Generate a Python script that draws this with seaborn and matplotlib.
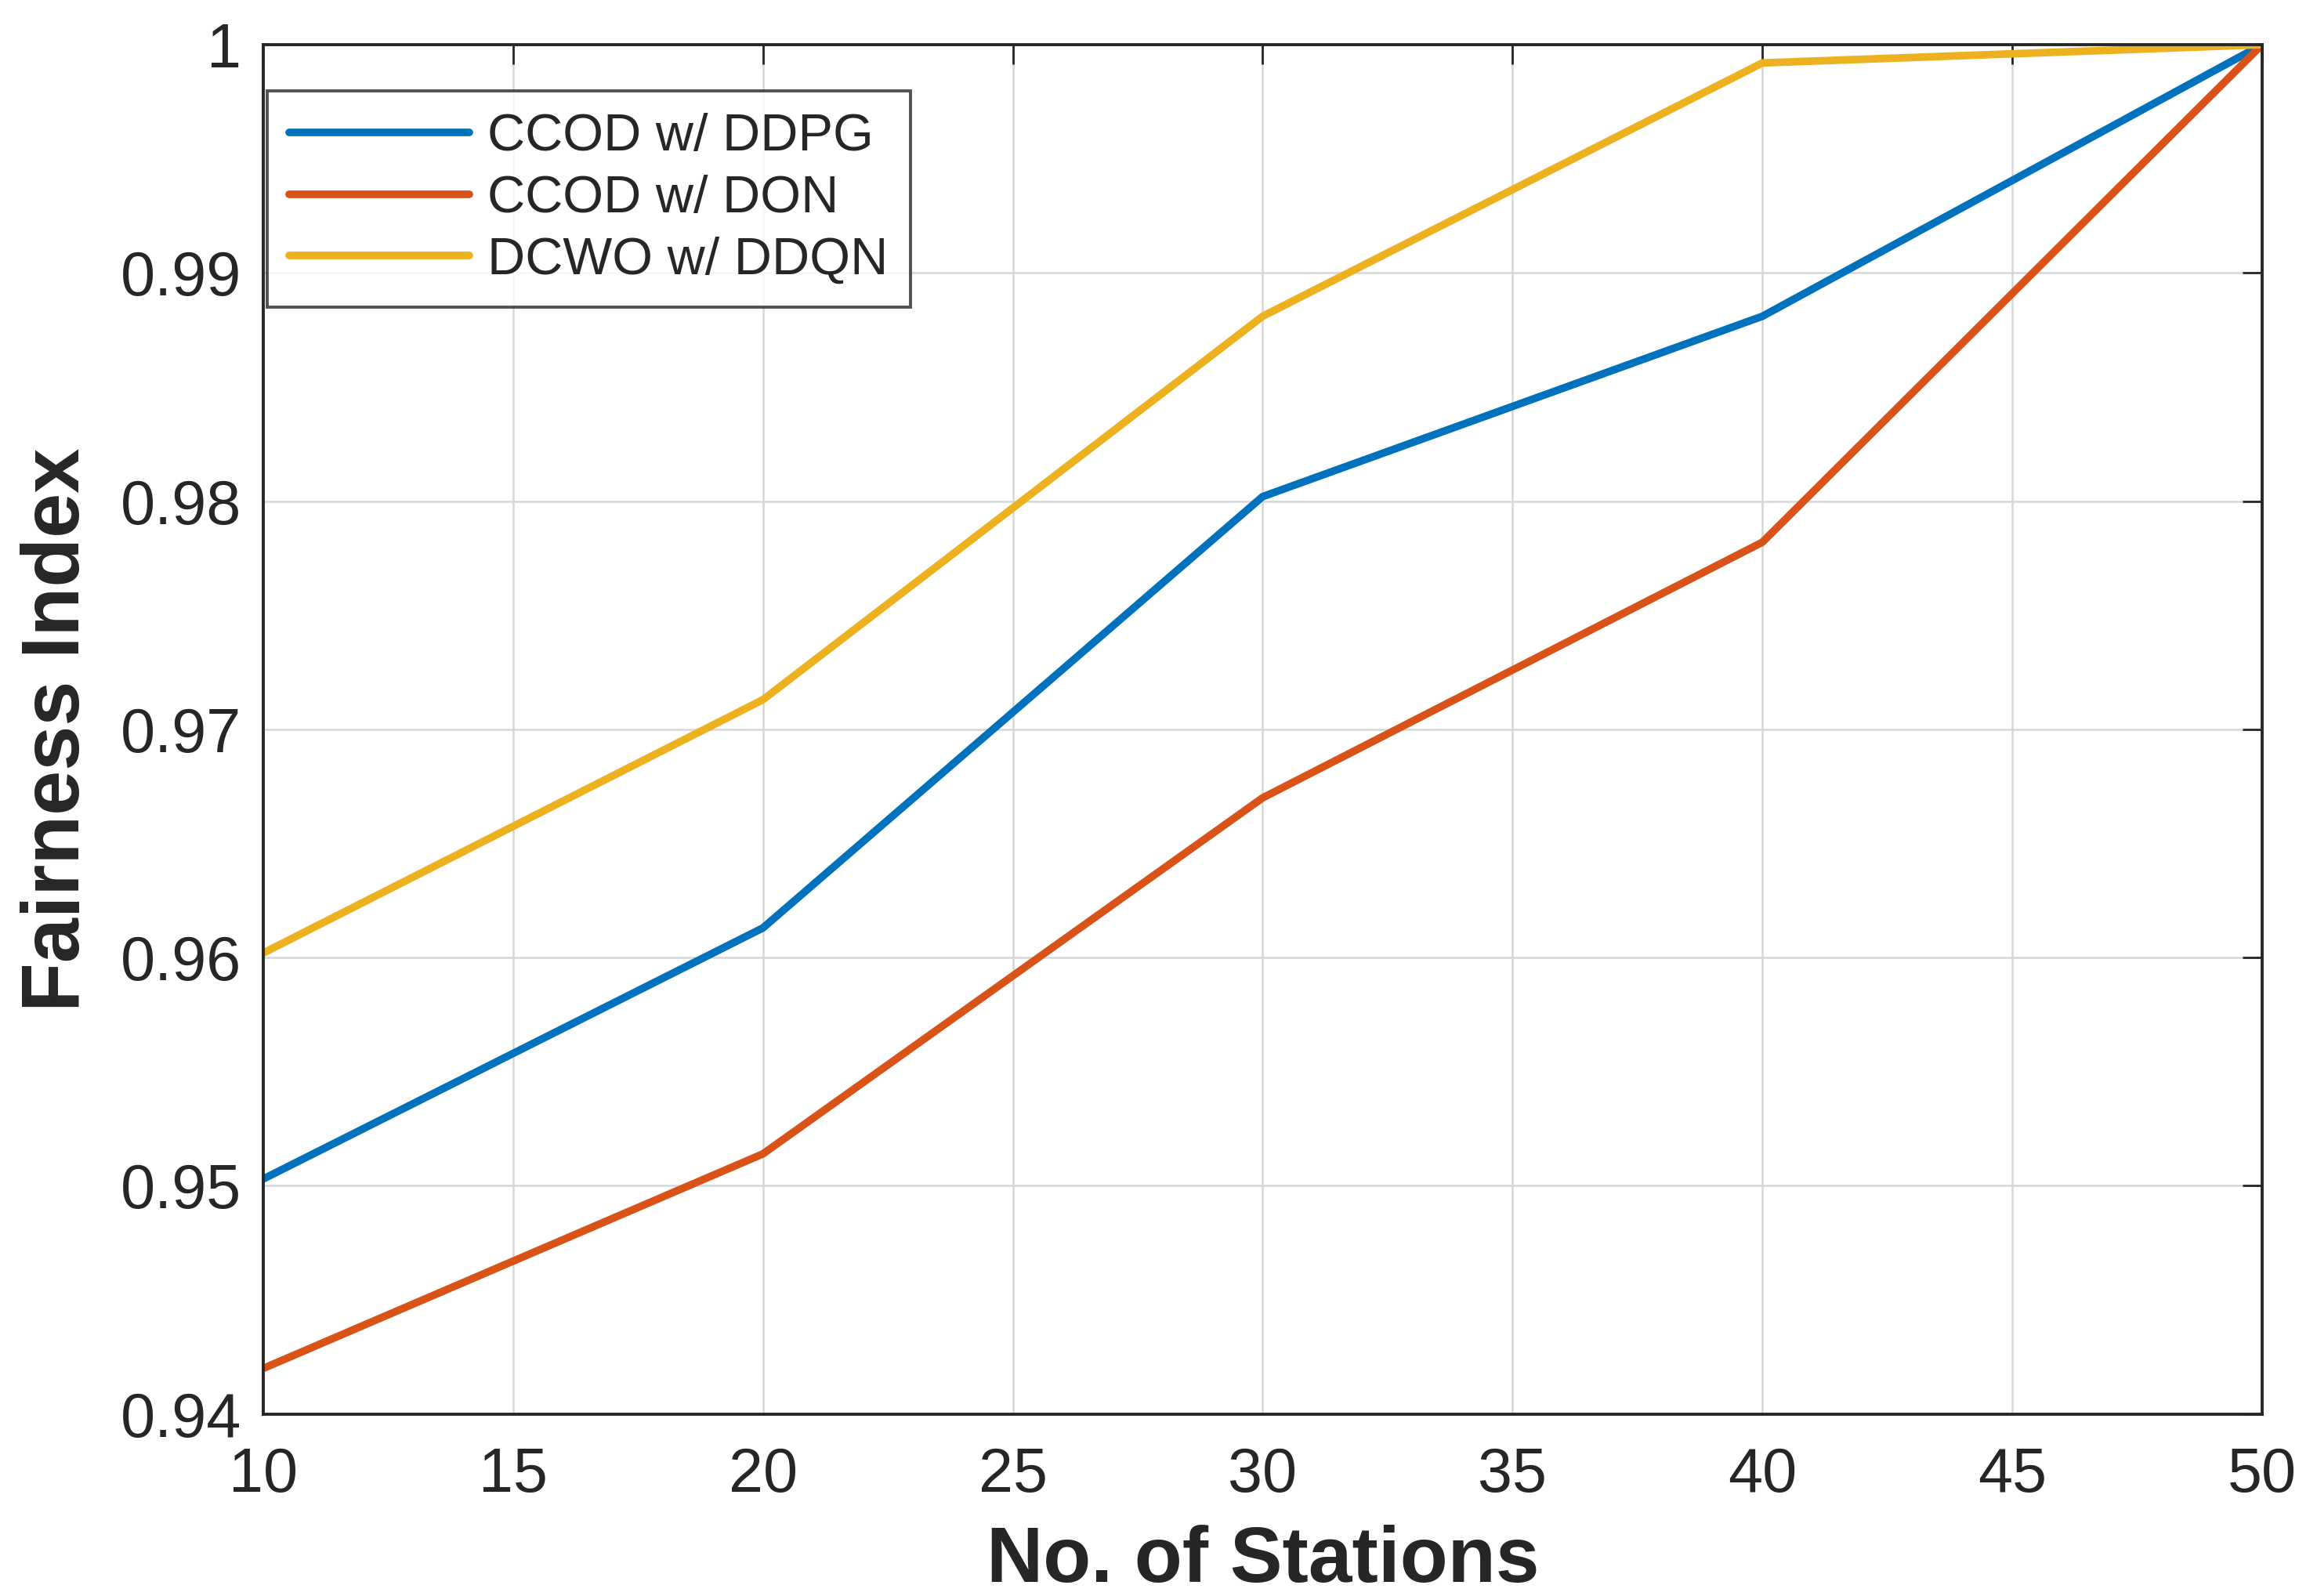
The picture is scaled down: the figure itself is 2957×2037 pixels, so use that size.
import numpy as np
import pandas as pd
import matplotlib
matplotlib.use("Agg")
import matplotlib.pyplot as plt
import seaborn as sns

stations = [10, 20, 30, 40, 50]
ddpg = [0.9503, 0.9613, 0.9802, 0.9881, 1.0]
dqn = [0.9420, 0.9514, 0.9670, 0.9782, 1.0]
ddqn = [0.9602, 0.9713, 0.9881, 0.9992, 1.0]
series_names = ["CCOD w/ DDPG", "CCOD w/ DON", "DCWO w/ DDQN"]
colors = ["#0072BD", "#D95319", "#EDB120"]
xticks = [10, 15, 20, 25, 30, 35, 40, 45, 50]
yticks = [0.94, 0.95, 0.96, 0.97, 0.98, 0.99, 1.0]
ytick_labels = ["0.94", "0.95", "0.96", "0.97", "0.98", "0.99", "1"]

df = pd.DataFrame({
    "x": stations * 3,
    "y": ddpg + dqn + ddqn,
    "series": [series_names[0]] * 5 + [series_names[1]] * 5 + [series_names[2]] * 5,
})

sns.set_style("white")
plt.rcParams["font.family"] = ["Liberation Sans", "DejaVu Sans"]

fig = plt.figure(figsize=(29.57, 20.37), dpi=100)
ax = fig.add_axes([0.1136, 0.114, 0.8627, 0.858])

sns.lineplot(data=df, x="x", y="y", hue="series", palette=colors,
             linewidth=7, ax=ax, legend=True)

ax.set_xlim(10, 50)
ax.set_ylim(0.94, 1.0)
ax.set_xticks(xticks)
ax.set_xticklabels([str(t) for t in xticks])
ax.set_yticks(yticks)
ax.set_yticklabels(ytick_labels)
ax.grid(True, color="#d6d6d6", linewidth=1.8)
ax.set_axisbelow(True)
for s in ax.spines.values():
    s.set_visible(True)
    s.set_color("#262626")
    s.set_linewidth(2.8)
ax.tick_params(axis="both", direction="in", length=18, width=2,
               colors="#262626", labelsize=57, top=True, right=True,
               labelcolor="#262626")
ax.tick_params(axis="x", pad=30)
ax.tick_params(axis="y", pad=20)

ax.set_xlabel("No. of Stations", fontsize=72, fontweight="bold", color="#262626", labelpad=18)
ax.set_ylabel("Fairness Index", fontsize=74, fontweight="bold", color="#262626", labelpad=22)

leg = ax.legend(loc="upper left", bbox_to_anchor=(0.002, 0.966), fontsize=48,
                handlelength=3.45, frameon=True, fancybox=False,
                borderpad=0.42, labelspacing=0.25, handletextpad=0.35,
                borderaxespad=0.0)
leg.get_frame().set_edgecolor("#262626")
leg.get_frame().set_linewidth(2.8)
for line in leg.get_lines():
    line.set_linewidth(7)

fig.savefig("out.png", dpi=100)
